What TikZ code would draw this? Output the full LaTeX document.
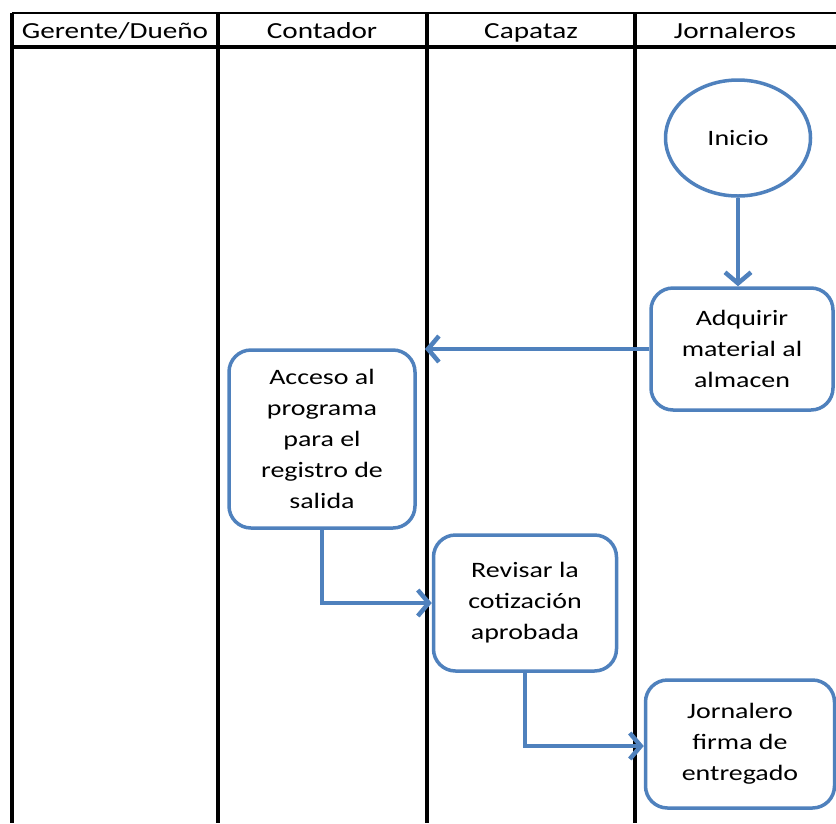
\documentclass[tikz,border=0pt]{standalone}
\usepackage{fontspec}
\setmainfont{Carlito}[FakeStretch=1.27]
\usetikzlibrary{shapes.geometric,arrows.meta}
\definecolor{flowblue}{HTML}{4F81BD}
\tikzset{
  lane/.style={line width=3.5pt, black},
  hdr/.style={font=\fontsize{23}{26}\selectfont, anchor=base},
  proc/.style={draw=flowblue, line width=3.5pt, rounded corners=22pt, fill=white, align=center,
    font=\fontsize{22}{31}\selectfont, inner sep=0pt},
  term/.style={draw=flowblue, line width=3.5pt, ellipse, fill=white, font=\fontsize{22}{26}\selectfont, inner sep=0pt},
  flow/.style={draw=flowblue, line width=4.5pt, -{Straight Barb[length=11pt,width=26pt,line width=4.5pt]}}
}
\begin{document}
\begin{tikzpicture}[x=1pt,y=-1pt]
\useasboundingbox (0,0) rectangle (836,823);
% table
\draw[line width=2pt] (12,13) -- (836,13);
\draw[line width=3.5pt] (12,47) -- (836,47);
\foreach \x in {12,218,427,635} \draw[lane] (\x,13) -- (\x,823);
\node[hdr] (h1) at (115,38) {Gerente/Dueño};
\node[hdr] (h2) at (322,38) {Contador};
\node[hdr] (h3) at (531,38) {Capataz};
\node[hdr] (h4) at (735,38) {Jornaleros};
% nodes
\node[term, minimum width=145pt, minimum height=116pt] (inicio) at (738,138) {Inicio};
\node[proc, minimum width=182pt, minimum height=122pt] (adq) at (742,349) {Adquirir\\material al\\almacen};
\node[proc, minimum width=186pt, minimum height=178pt] (acc) at (322,439) {Acceso al\\programa\\para el\\registro de\\salida};
\node[proc, minimum width=183pt, minimum height=136pt] (rev) at (525,603) {Revisar la\\cotización\\aprobada};
\node[proc, minimum width=189pt, minimum height=128pt] (jor) at (740,744) {Jornalero\\firma de\\entregado};
\coordinate (adqend) at (425,349);
% connectors
\draw[flow] (inicio.south) -- (inicio.south |- adq.north);
\draw[flow] (adq.west) -- (adqend);
\draw[flow] (acc.south) |- (rev.west);
\draw[flow] (rev.south) |- ([yshift=-2pt]jor.west);
\end{tikzpicture}
\end{document}
